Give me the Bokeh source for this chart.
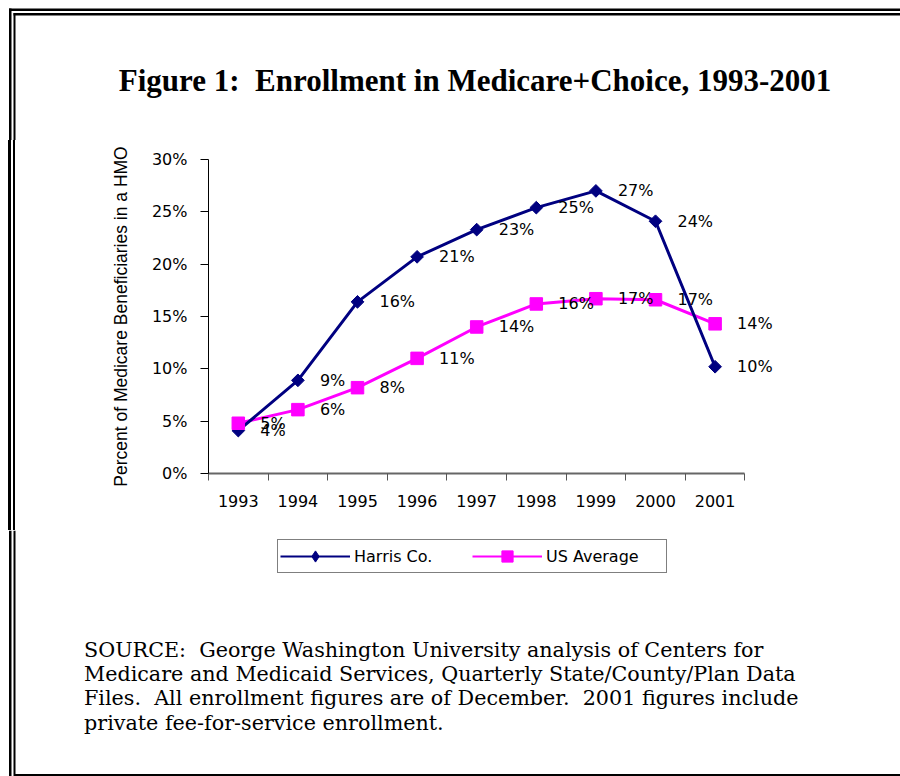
import math
from bokeh.plotting import figure
from bokeh.layouts import column
from bokeh.models import Range1d, FixedTicker, Legend, LegendItem, ColumnDataSource
from bokeh.core.properties import value
from bokeh.embed import file_html
from bokeh.resources import INLINE

# ---------------- data ----------------
years = [1993, 1994, 1995, 1996, 1997, 1998, 1999, 2000, 2001]
harris = [4.1, 8.9, 16.4, 20.7, 23.3, 25.4, 27.0, 24.1, 10.2]
us_avg = [4.8, 6.1, 8.2, 11.0, 14.0, 16.2, 16.7, 16.6, 14.3]
harris_labels = ["4%", "9%", "16%", "21%", "23%", "25%", "27%", "24%", "10%"]
us_labels = ["5%", "6%", "8%", "11%", "14%", "16%", "17%", "17%", "14%"]
series_names = ["Harris Co.", "US Average"]
x_tick_labels = ["1993", "1994", "1995", "1996", "1997", "1998", "1999", "2000", "2001"]
y_ticks = [0, 5, 10, 15, 20, 25, 30]
y_tick_labels = ["0%", "5%", "10%", "15%", "20%", "25%", "30%"]
title_text = "Figure 1:\u00a0 Enrollment in Medicare+Choice, 1993-2001"
y_axis_title = "Percent of Medicare Beneficiaries in a HMO"
source_lines = [
    "SOURCE:\u00a0 George Washington University analysis of Centers for",
    "Medicare and Medicaid Services, Quarterly State/County/Plan Data",
    "Files.\u00a0 All enrollment figures are of December.\u00a0 2001 figures include",
    "private fee-for-service enrollment.",
]

NAVY = "#000080"
PINK = "#FF00FF"
SANS = "DejaVu Sans"
W, H = 900, 776
HEAD_H, CHART_H = 140, 390
FOOT_H = H - HEAD_H - CHART_H
FOOT_Y0 = HEAD_H + CHART_H


def no_align(f):
    try:
        f.frame_align = False
    except AttributeError:
        pass


def canvas_fig(w, h, y0):
    """A figure whose data units are page pixels (y downward), used for page decoration."""
    f = figure(width=w, height=h, output_backend="svg", toolbar_location=None,
               x_range=Range1d(0, w), y_range=Range1d(y0 + h, y0),
               x_axis_type=None, y_axis_type=None, min_border=0)
    f.outline_line_color = None
    f.xgrid.visible = False
    f.ygrid.visible = False
    f.background_fill_color = "white"
    f.border_fill_color = "white"
    no_align(f)
    return f


def left_rules(f, top_outer, top_inner, bottom_outer, bottom_inner):
    f.quad(left=8.5, right=11, top=top_outer, bottom=bottom_outer,
           fill_color="black", line_color=None)
    f.quad(left=13, right=15, top=top_inner, bottom=bottom_inner,
           fill_color="black", line_color=None)


# ---------------- header (title + top of the double frame) ----------------
head = canvas_fig(W, HEAD_H, 0)
head.quad(left=8.5, right=W, top=8, bottom=10.5, fill_color="black", line_color=None)
head.quad(left=13, right=W, top=12.5, bottom=15, fill_color="black", line_color=None)
left_rules(head, 8, 12.5, HEAD_H, HEAD_H)
head.text(x=[474.5], y=[80], text=[title_text], text_align="center",
          text_baseline="alphabetic", text_font=value("Liberation Serif"),
          text_font_style="bold", text_font_size="31px", text_color="black")

# ---------------- chart ----------------
src = ColumnDataSource(dict(x=years, h=harris, u=us_avg,
                            hl=harris_labels, ul=us_labels))

p = figure(width=W, height=CHART_H, output_backend="svg",
           toolbar_location=None,
           x_range=Range1d(years[0] - 0.5, years[-1] + 1.5),
           y_range=Range1d(y_ticks[0], y_ticks[-1]),
           min_border_left=208, min_border_right=96,
           min_border_top=19, min_border_bottom=CHART_H - 19 - 314)
no_align(p)
p.outline_line_color = None
p.xgrid.visible = False
p.ygrid.visible = False
p.background_fill_color = "white"
p.border_fill_color = None
# the two vertical rules of the page frame, painted behind the transparent canvas border
p.styles = {
    "background-color": "white",
    "background-image": ("linear-gradient(to right, white 0px, white 8.5px, black 8.5px, "
                         "black 11px, white 11px, white 13px, black 13px, black 15px, "
                         "white 15px, white 100%)"),
}

yax = p.yaxis[0]
yax.ticker = FixedTicker(ticks=y_ticks, minor_ticks=[])
yax.major_label_overrides = {t: lab for t, lab in zip(y_ticks, y_tick_labels)}
yax.major_tick_in = 0
yax.major_tick_out = 8
yax.major_tick_line_color = "black"
yax.axis_line_color = "black"
yax.major_label_standoff = 13
yax.major_label_text_font = SANS
yax.major_label_text_font_size = "16px"
yax.major_label_text_color = "black"
yax.axis_label = y_axis_title
yax.axis_label_text_font = "Liberation Sans"
yax.axis_label_text_font_size = "17.5px"
yax.axis_label_text_font_style = "normal"
yax.axis_label_text_color = "black"
yax.axis_label_standoff = 18

xax = p.xaxis[0]
bounds = [y - 0.5 for y in years] + [years[-1] + 0.5]
xax.bounds = (bounds[0], bounds[-1])
xax.ticker = FixedTicker(ticks=years, minor_ticks=bounds)
xax.major_label_overrides = {y: lab for y, lab in zip(years, x_tick_labels)}
xax.major_tick_line_color = None
xax.major_tick_in = 0
xax.major_tick_out = 0
xax.minor_tick_in = 0
xax.minor_tick_out = 7
xax.minor_tick_line_color = "#555555"
xax.minor_tick_line_width = 1
xax.axis_line_color = "#666666"
xax.axis_line_width = 2
xax.major_label_standoff = 14
xax.major_label_text_font = SANS
xax.major_label_text_font_size = "16px"
xax.major_label_text_color = "black"

harris_style = dict(color=NAVY, marker="square", size=9, angle=math.pi / 4,
                    key_marker="diamond")
us_style = dict(color=PINK, marker="square", size=12.5, angle=0.0,
                key_marker="square")

u_line = p.line("x", "u", source=src, line_color=PINK, line_width=3)
h_line = p.line("x", "h", source=src, line_color=NAVY, line_width=3)
h_pts = p.scatter("x", "h", source=src, marker=harris_style["marker"],
                  size=harris_style["size"], angle=harris_style["angle"],
                  fill_color=NAVY, line_color=NAVY)
u_pts = p.scatter("x", "u", source=src, marker=us_style["marker"],
                  size=us_style["size"], angle=us_style["angle"],
                  fill_color=PINK, line_color=PINK)

for col, lab in (("h", "hl"), ("u", "ul")):
    p.text("x", col, text=lab, source=src, x_offset=22, text_align="left",
           text_baseline="middle", text_font=value(SANS), text_font_size="16px",
           text_color="black")

# ---------------- footer (legend, source note, bottom of the frame) ----------------
foot = canvas_fig(W, FOOT_H, FOOT_Y0)
left_rules(foot, FOOT_Y0, FOOT_Y0, H, 773.5)
foot.quad(left=13, right=W, top=773.5, bottom=776, fill_color="black", line_color=None)
foot.text(x=[83.5] * len(source_lines), y=[649 + 24.4 * i for i in range(len(source_lines))],
          text=source_lines, text_align="left", text_baseline="alphabetic",
          text_font=value("DejaVu Serif"), text_font_size="20.7px", text_color="black")

# legend keys: the same series drawn again in the footer (they fall outside its
# pixel-unit ranges, so only the legend shows them)
items = []
for name, col, st in ((series_names[0], "h", harris_style), (series_names[1], "u", us_style)):
    lr = foot.line("x", col, source=src, line_color=st["color"], line_width=2)
    sr = foot.scatter("x", col, source=src, marker=st["key_marker"], size=st["size"],
                      fill_color=st["color"], line_color=st["color"])
    items.append(LegendItem(label=name, renderers=[lr, sr]))

legend = Legend(items=items, orientation="horizontal", location=(277, H - 573),
                glyph_width=70, glyph_height=28, padding=2, label_standoff=4,
                label_width=118, spacing=0, margin=0,
                border_line_color="black", border_line_width=1,
                label_text_font=SANS, label_text_font_size="16px",
                label_text_color="black", background_fill_color="white",
                background_fill_alpha=1)
foot.add_layout(legend, "center")

layout = column(head, p, foot, spacing=0)

open("out.html", "w").write(file_html(layout, INLINE))
